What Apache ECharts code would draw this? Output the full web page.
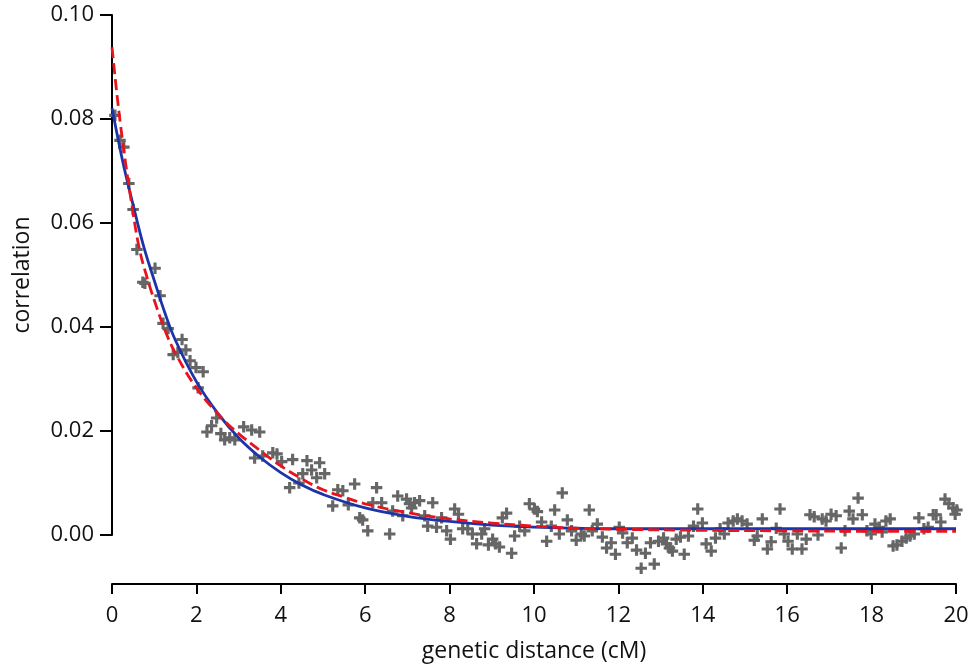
<!DOCTYPE html>
<html>
<head>
<meta charset="utf-8">
<script src="https://cdn.jsdelivr.net/npm/echarts@6/dist/echarts.min.js"></script>
<style>
html,body{margin:0;padding:0;background:#fff;}
#chart{width:970px;height:666px;}
</style>
</head>
<body>
<div id="chart"></div>
<script>
// observed correlation values [genetic distance (cM), correlation]
const observed = [
[0.07,0.0807],[0.19,0.0759],[0.28,0.0746],[0.40,0.0676],[0.50,0.0626],[0.59,0.0549],[0.73,0.0486],[0.78,0.0484],
[1.02,0.0513],[1.14,0.0460],[1.21,0.0407],[1.33,0.0397],[1.45,0.0347],[1.56,0.0351],[1.66,0.0376],[1.75,0.0356],
[1.85,0.0335],[1.99,0.0322],[2.04,0.0283],[2.16,0.0314],[2.25,0.0198],[2.36,0.0210],[2.48,0.0225],[2.58,0.0195],
[2.67,0.0183],[2.79,0.0187],[2.91,0.0183],[3.12,0.0208],[3.31,0.0202],[3.38,0.0148],[3.50,0.0198],[3.57,0.0152],
[3.81,0.0158],[3.91,0.0156],[4.02,0.0141],[4.21,0.0091],[4.28,0.0145],[4.43,0.0100],[4.52,0.0118],[4.62,0.0143],
[4.73,0.0125],[4.85,0.0110],[4.92,0.0139],[5.04,0.0118],[5.23,0.0056],[5.35,0.0087],[5.47,0.0085],[5.60,0.0058],
[5.75,0.0098],[5.87,0.0033],[5.94,0.0029],[6.06,0.0008],[6.18,0.0062],[6.27,0.0091],[6.39,0.0062],[6.58,0.0002],
[6.65,0.0046],[6.77,0.0075],[6.89,0.0037],[6.98,0.0069],[7.05,0.0060],[7.10,0.0052],[7.17,0.0062],[7.29,0.0066],
[7.41,0.0037],[7.48,0.0017],[7.60,0.0062],[7.69,0.0015],[7.81,0.0033],[7.93,0.0008],[8.02,-0.0008],[8.12,0.0050],
[8.21,0.0040],[8.31,0.0012],[8.43,0.0012],[8.54,0.0002],[8.64,-0.0017],[8.76,0.0002],[8.83,0.0012],[8.92,-0.0019],
[9.02,-0.0008],[9.09,-0.0017],[9.18,-0.0023],[9.25,0.0033],[9.35,0.0042],[9.47,-0.0035],[9.54,-0.0002],[9.66,0.0017],
[9.78,0.0008],[9.89,0.0060],[10.01,0.0050],[10.08,0.0045],[10.18,0.0025],[10.30,-0.0012],[10.41,0.0017],[10.49,0.0048],
[10.60,0.0002],[10.67,0.0081],[10.79,0.0029],[10.89,0.0008],[11.00,-0.0010],[11.12,0.0002],[11.19,-0.0002],[11.31,0.0048],
[11.38,0.0008],[11.50,0.0021],[11.62,-0.0004],[11.72,-0.0025],[11.83,-0.0015],[11.93,-0.0037],[12.02,0.0015],[12.10,0.0004],
[12.21,-0.0015],[12.33,-0.0006],[12.43,-0.0029],[12.54,-0.0064],[12.64,-0.0035],[12.76,-0.0015],[12.85,-0.0056],[12.95,-0.0012],
[13.07,-0.0006],[13.14,-0.0017],[13.21,-0.0025],[13.28,-0.0031],[13.37,-0.0008],[13.47,-0.0004],[13.56,-0.0037],[13.66,-0.0002],
[13.78,0.0017],[13.88,0.0050],[13.99,0.0023],[14.08,-0.0017],[14.20,-0.0031],[14.30,-0.0006],[14.41,0.0012],[14.51,0.0002],
[14.60,0.0023],[14.72,0.0027],[14.82,0.0031],[14.93,0.0027],[15.05,0.0021],[15.22,-0.0010],[15.29,-0.0002],[15.41,0.0031],
[15.53,-0.0027],[15.62,-0.0013],[15.74,0.0013],[15.83,0.0050],[15.93,0.0002],[16.02,-0.0012],[16.12,-0.0027],[16.24,0.0002],
[16.35,-0.0027],[16.45,-0.0008],[16.54,0.0039],[16.64,0.0035],[16.73,0.0000],[16.83,0.0031],[16.92,0.0027],[17.04,0.0040],
[17.16,0.0037],[17.28,-0.0025],[17.37,0.0008],[17.47,0.0046],[17.56,0.0031],[17.68,0.0071],[17.78,0.0039],[17.89,0.0008],
[17.99,0.0002],[18.08,0.0021],[18.18,0.0015],[18.25,0.0006],[18.34,0.0027],[18.44,0.0031],[18.51,-0.0021],[18.60,-0.0019],
[18.72,-0.0012],[18.82,-0.0006],[18.91,-0.0002],[19.01,0.0002],[19.12,0.0033],[19.24,0.0012],[19.34,0.0015],[19.46,0.0039],
[19.53,0.0039],[19.64,0.0025],[19.74,0.0069],[19.83,0.0060],[19.93,0.0052],[19.98,0.0040],[20.02,0.0048]
];

// blue solid fit
const fitBlueX = [0,0.25,0.5,0.75,1.0,1.25,1.5,2.0,2.5,3.0,3.5,4.0,4.5,5.0,6.0,7.0,8.0,9.0,10,11,12,14,16,18,20];
const fitBlueY = [0.0821,0.0720,0.0635,0.0555,0.0490,0.0428,0.0375,0.0295,0.0235,0.0187,0.0150,0.0120,0.0096,0.0078,0.0052,0.0036,0.0026,0.0019,0.0015,0.0013,0.0012,0.0012,0.0012,0.0012,0.0012];

// red dashed fit
const fitRedX = [0,0.1,0.2,0.3,0.45,0.65,0.85,1.0,1.25,1.5,2.0,2.6,3.0,3.5,4.0,4.5,5.0,5.5,6,7,8,9,10,11,12,14,16,18,20];
const fitRedY = [0.0938,0.0860,0.0790,0.0728,0.0645,0.0550,0.0490,0.0452,0.0395,0.0350,0.0283,0.0225,0.0195,0.0163,0.0133,0.0108,0.0087,0.0073,0.0060,0.0043,0.0031,0.0023,0.0017,0.0013,0.0011,0.0009,0.0008,0.0007,0.0007];

const xTicks = {min:0, max:20, interval:2};
const yTicks = {min:0, max:0.10, interval:0.02};

const FONT = 'Open Sans';
const chart = echarts.init(document.getElementById('chart'), null, {renderer:'canvas'});
const plus = 'path://M4,0H7V4H11V7H7V11H4V7H0V4H4Z';

chart.setOption({
  animation:false,
  backgroundColor:'#ffffff',
  grid:{left:112, right:14, top:15, bottom:131, containLabel:false, outerBoundsMode:'none'},
  xAxis:{
    type:'value', min:xTicks.min, max:xTicks.max, interval:xTicks.interval,
    offset:49,
    name:'genetic distance (cM)', nameLocation:'middle', nameGap:56,
    nameTextStyle:{fontFamily:FONT, fontSize:23, color:'#111'},
    axisLine:{show:true, onZero:false, lineStyle:{color:'#000', width:2}},
    axisTick:{show:true, inside:false, length:10, lineStyle:{color:'#000', width:2}},
    axisLabel:{fontFamily:FONT, fontSize:22, color:'#111', margin:21},
    splitLine:{show:false}
  },
  yAxis:{
    type:'value', min:yTicks.min, max:yTicks.max, interval:yTicks.interval,
    name:'correlation', nameLocation:'middle', nameGap:78, nameRotate:90,
    nameTextStyle:{fontFamily:FONT, fontSize:23, color:'#111'},
    axisLine:{show:true, lineStyle:{color:'#000', width:2}},
    axisTick:{show:true, inside:false, length:12, lineStyle:{color:'#000', width:2}},
    axisLabel:{fontFamily:FONT, fontSize:22, color:'#111', margin:18, formatter:v=>v.toFixed(2)},
    splitLine:{show:false}
  },
  series:[
    {type:'scatter', data:observed, symbol:plus, symbolSize:11.5, clip:false,
     itemStyle:{color:'#666666', opacity:1}, z:2},
    {type:'line', data:fitBlueX.map((x,i)=>[x,fitBlueY[i]]), smooth:0.4, showSymbol:false, clip:false,
     lineStyle:{color:'#1b35a8', width:2.8}, z:3},
    {type:'line', data:fitRedX.map((x,i)=>[x,fitRedY[i]]), smooth:0.4, showSymbol:false, clip:false,
     lineStyle:{color:'#e8141c', width:2.8, type:[11,5]}, z:4}
  ]
});
</script>
</body>
</html>
